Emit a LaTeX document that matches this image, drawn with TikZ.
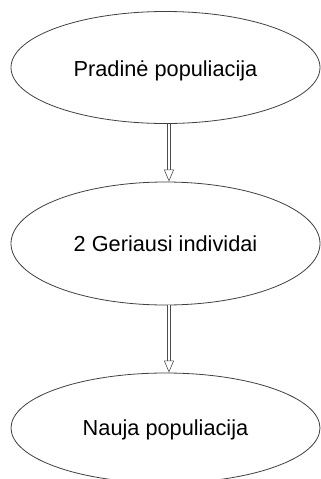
\documentclass[tikz,border=0pt]{standalone}
\usepackage{fontspec}
\setmainfont{Liberation Sans}
\usetikzlibrary{shapes.geometric,arrows.meta}
\begin{document}
\begin{tikzpicture}[x=0.75pt,y=-0.75pt,
  stage/.style={ellipse, draw=black!75, line width=0.6pt, inner sep=0pt,
    minimum width=231.75pt, font=\fontsize{16.3pt}{19pt}\selectfont},
  flow/.style={draw=black!70, line width=0.45pt, double, double distance=1.6pt,
    -{Triangle[open, length=9pt, width=7.5pt]}}]
  \clip (0,0) rectangle (321,479);
  \node[stage, minimum height=84pt, text height=17pt, text depth=3.4pt] (start) at (165.5,67.5) {Pradinė populiacija};
  \node[stage, minimum height=92.25pt] (best) at (165.5,243.5) {2 Geriausi individai};
  \node[stage, minimum height=82.5pt, text height=15pt, text depth=3.4pt] (next) at (165.5,428) {Nauja populiacija};
  \draw[flow] ([xshift=2.6pt]start.south) -- ([xshift=2.6pt]best.north);
  \draw[flow] ([xshift=2.6pt]best.south) -- ([xshift=2.6pt]next.north);
\end{tikzpicture}
\end{document}
